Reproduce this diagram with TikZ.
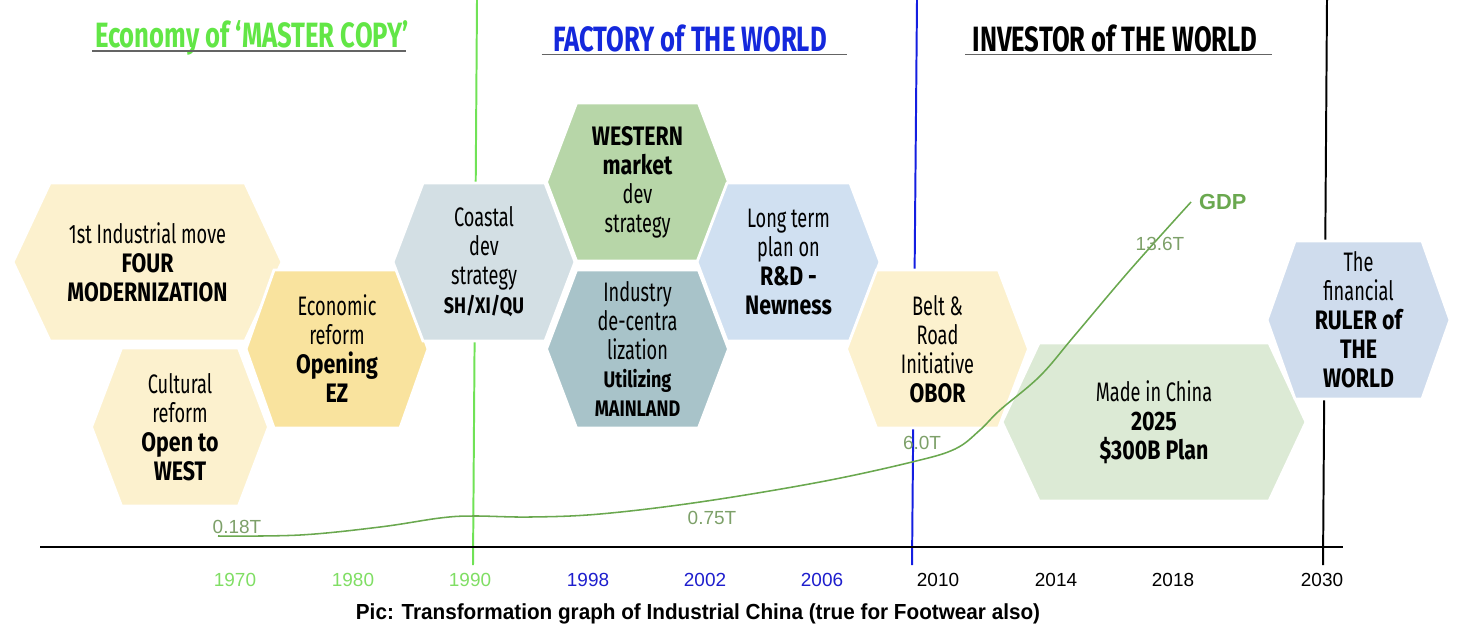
\documentclass[tikz,border=0pt]{standalone}
\usepackage{fontspec}
\setmainfont{Liberation Sans}
\newfontfamily\hexfont[FakeStretch=0.68]{Fira Sans}
\newfontfamily\hexboldfont[FakeStretch=0.80]{Fira Sans}
\newfontfamily\headfont[FakeStretch=0.73]{Fira Sans}
\newfontfamily\capfont[FakeStretch=0.95]{Liberation Sans}
\usepackage{xcolor}
\usepackage{tikz}
\usetikzlibrary{positioning, calc}
\definecolor{hexcream}{RGB}{252,241,206}
\definecolor{hexgold}{RGB}{249,227,158}
\definecolor{hexslate}{RGB}{211,223,228}
\definecolor{hexgreen}{RGB}{183,214,168}
\definecolor{hexteal}{RGB}{168,195,201}
\definecolor{hexsky}{RGB}{208,224,241}
\definecolor{hexmint}{RGB}{220,234,213}
\definecolor{hexblue}{RGB}{207,220,237}
\definecolor{eragreen}{RGB}{112,226,86}
\definecolor{erablue}{RGB}{20,30,225}
\definecolor{headgreen}{RGB}{98,230,70}
\definecolor{headblue}{RGB}{20,40,220}
\definecolor{yeargreen}{RGB}{128,222,100}
\definecolor{yearblue}{RGB}{30,30,205}
\definecolor{gdpgreen}{RGB}{106,168,79}
\definecolor{gdplabel}{RGB}{125,160,105}
\definecolor{headgrey}{RGB}{100,100,100}
\tikzset{
  hexfill/.style={fill=#1, draw=white, line width=2pt},
  hextext/.style={align=center, inner sep=0pt, text=black,
    font=\hexfont\fontsize{19}{20.6}\selectfont},
  heading/.style={font=\headfont\bfseries\fontsize{25}{28}\selectfont, inner sep=0pt},
  headline/.style={draw=headgrey, line width=1.2pt},
  era/.style={line width=1.4pt},
  axisline/.style={line width=1.4pt, color=black},
  yearlbl/.style={font=\fontsize{13.5}{15}\selectfont},
  gdplbl/.style={font=\fontsize{13.5}{16}\selectfont, text=gdplabel, inner sep=0pt},
  gdpcurve/.style={line width=1.1pt, color=gdpgreen}
}
\newcommand{\hexbf}[1]{{\hexboldfont\bfseries #1}}
\newcommand{\hexsmall}[1]{{\hexboldfont\bfseries\fontsize{16}{18}\selectfont #1}}
\newcommand{\hexcell}[7]{%
  \fill[hexfill=#6] (#2-#4/2,#3) -- (#2-#4/2+#5,#3-79) -- (#2+#4/2-#5,#3-79)
    -- (#2+#4/2,#3) -- (#2+#4/2-#5,#3+79) -- (#2-#4/2+#5,#3+79) -- cycle;
  \node[hextext] (#1) at (#2,#3) {#7};
}

\begin{document}
\begin{tikzpicture}[x=0.025cm, y=-0.025cm]
  \useasboundingbox (0,0) rectangle (1464,640);

  % era borders
  \coordinate (master top) at (477,0);
  \coordinate (master foot) at (473,565);
  \coordinate (factory top) at (917,0);
  \coordinate (factory foot) at (912,565);
  \coordinate (investor top) at (1327,0);
  \coordinate (investor foot) at (1323,565);
  \draw[era, eragreen] (master top) -- (master foot);
  \draw[era, erablue] (factory top) -- (factory foot);
  \draw[era, black] (investor top) -- (investor foot);

  % time axis
  \coordinate (axis start) at (40,547);
  \coordinate (axis end) at (1343,547);
  \draw[axisline] (axis start) -- (axis end);

  % hexagons
  \hexcell{ind}{147.5}{262}{269}{37}{hexcream}{1st Industrial move\\\hexbf{FOUR}\\\hexbf{MODERNIZATION}}
  \hexcell{cult}{180}{427}{177}{30}{hexcream}{Cultural\\reform\\\hexbf{Open to}\\\hexbf{WEST}}
  \hexcell{econ}{337}{349}{182}{28}{hexgold}{Economic\\reform\\\hexbf{Opening}\\\hexbf{EZ}}
  \hexcell{coast}{484}{262}{182}{30}{hexslate}{Coastal\\dev\\strategy\\\hexsmall{SH/XI/QU}}
  \hexcell{west}{637.5}{182}{182}{30}{hexgreen}{\hexbf{WESTERN}\\\hexbf{market}\\dev\\strategy}
  \hexcell{decent}{637.5}{349}{182}{30}{hexteal}{Industry\\de-centra\\lization\\\hexsmall{Utilizing}\\\hexsmall{MAINLAND}}
  \hexcell{rnd}{788.5}{262}{183}{30}{hexsky}{Long term\\plan on\\\hexbf{R\&D -}\\\hexbf{Newness}}
  \hexcell{obor}{937.5}{349}{182}{30}{hexcream}{Belt \&\\Road\\Initiative\\\hexbf{OBOR}}
  \hexcell{mic}{1154}{422}{304}{37}{hexmint}{Made in China\\\hexbf{2025}\\\hexbf{\$300B Plan}}
  \hexcell{ruler}{1358.5}{320}{183}{28}{hexblue}{The\\financial\\\hexbf{RULER of}\\\hexbf{THE}\\\hexbf{WORLD}}

  % GDP growth
  \draw[gdpcurve] plot[smooth, tension=0.6] coordinates {(218,536) (300,535) (380,527)
    (440,518) (473,516) (530,517) (600,514) (700,502) (820,482) (912,462) (955,449)
    (980,430) (1000,410) (1040,376) (1075,335) (1130,270) (1191,202)};
  \coordinate (gdp end) at (1191,202);
  \node[font=\bfseries\fontsize{15.5}{18}\selectfont, text=gdpgreen, right=0.08cm of gdp end] (gdp) {GDP};
  \node[gdplbl] (v1970) at (237,527) {0.18T};
  \node[gdplbl] (v2000) at (712,518) {0.75T};
  \node[gdplbl] (v2010) at (922,443) {6.0T};
  \node[gdplbl] (v2018) at (1160,244) {13.6T};

  % era headings
  \node[heading, text=headgreen] (master) at (252,38) {Economy of ‘MASTER COPY’};
  \node[heading, text=headblue] (factory) at (690,38) {FACTORY of THE WORLD};
  \node[heading, text=black] (investor) at (1115,38) {INVESTOR of THE WORLD};
  \draw[headline] ([yshift=-2.5pt, xshift=-2pt]master.base west) -- ([yshift=-2.5pt, xshift=-2pt]master.base east);
  \draw[headline] ([yshift=-2.5pt, xshift=-8pt]factory.base west) -- ([yshift=-2.5pt, xshift=14pt]factory.base east);
  \draw[headline] ([yshift=-2.5pt, xshift=-5pt]investor.base west) -- ([yshift=-2.5pt, xshift=10pt]investor.base east);

  % years
  \node[yearlbl, text=yeargreen] (y1970) at (235,580) {1970};
  \node[yearlbl, text=yeargreen] (y1980) at (353,580) {1980};
  \node[yearlbl, text=yeargreen] (y1990) at (470,580) {1990};
  \node[yearlbl, text=yearblue] (y1998) at (588,580) {1998};
  \node[yearlbl, text=yearblue] (y2002) at (705,580) {2002};
  \node[yearlbl, text=yearblue] (y2006) at (822,580) {2006};
  \node[yearlbl] (y2010) at (938,580) {2010};
  \node[yearlbl] (y2014) at (1056,580) {2014};
  \node[yearlbl] (y2018) at (1173,580) {2018};
  \node[yearlbl] (y2030) at (1322,580) {2030};

  % caption
  \node[font=\capfont\bfseries\fontsize{15.5}{18}\selectfont] (caption) at (698,614) {Pic: Transformation graph of Industrial China (true for Footwear also)};
\end{tikzpicture}
\end{document}
